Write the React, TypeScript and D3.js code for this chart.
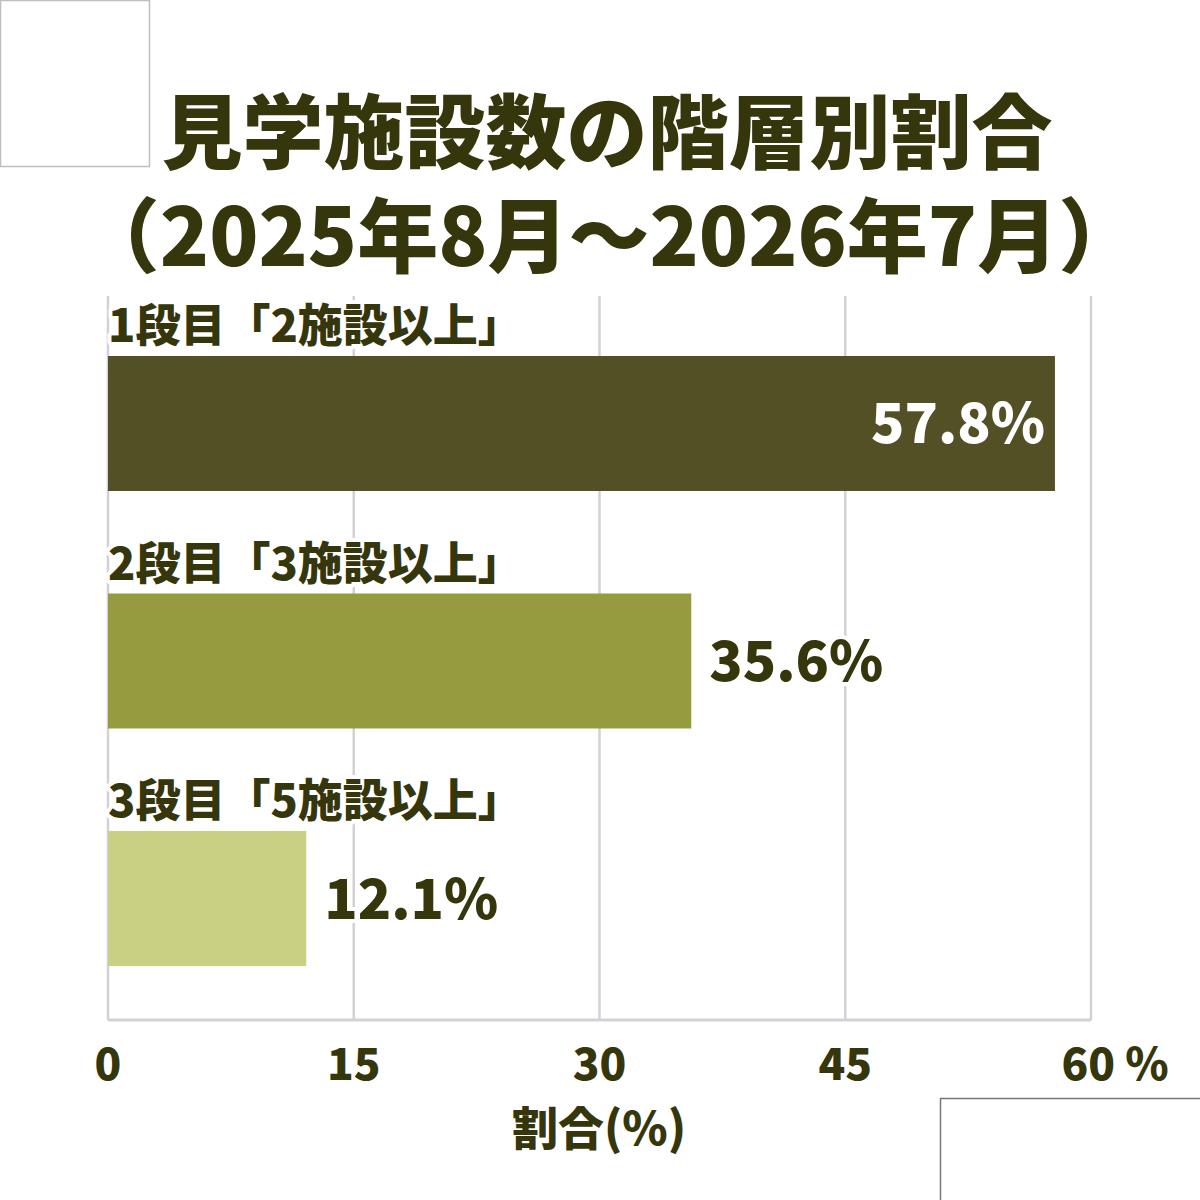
import { useEffect, useRef } from "react"
import * as d3 from "d3"

const categories = ["1段目「2施設以上」", "2段目「3施設以上」", "3段目「5施設以上」"]
const values = [57.8, 35.6, 12.1]
const valueLabels = ["57.8%", "35.6%", "12.1%"]
const barColors = ["#525024", "#969b3f", "#c9cf83"]
const ticks = [0, 15, 30, 45, 60]
const titleLines = ["見学施設数の階層別割合", "（2025年8月～2026年7月）"]

const FONT = "'Noto Sans CJK JP', 'Noto Sans', sans-serif"
const INK = "#36360c"

export default function App() {
  const svgRef = useRef<SVGSVGElement>(null)

  useEffect(() => {
    if (!svgRef.current) return
    const width = 1200
    const height = 1200

    d3.select(svgRef.current).selectAll("*").remove()
    const svg = d3.select(svgRef.current).attr("width", width).attr("height", height)

    svg.append("rect").attr("width", width).attr("height", height).attr("fill", "#fff")

    // placeholder boxes in the corners
    svg
      .append("rect")
      .attr("x", 0.5)
      .attr("y", 0.5)
      .attr("width", 149)
      .attr("height", 166)
      .attr("fill", "#fff")
      .attr("stroke", "#bdbdc2")
      .attr("stroke-width", 1.5)
    svg
      .append("rect")
      .attr("x", 940.5)
      .attr("y", 1098.5)
      .attr("width", 262)
      .attr("height", 110)
      .attr("fill", "#fff")
      .attr("stroke", "#777")
      .attr("stroke-width", 1.5)

    const x = d3.scaleLinear().domain([0, 60]).range([108, 1091])
    const y = d3.scaleBand().domain(categories).range([356, 966]).paddingInner(0.4316).paddingOuter(0)

    const plotTop = 296
    const plotBottom = 1020

    // grid lines
    svg
      .selectAll(".grid")
      .data(ticks)
      .enter()
      .append("line")
      .attr("x1", (d) => x(d))
      .attr("x2", (d) => x(d))
      .attr("y1", plotTop)
      .attr("y2", plotBottom)
      .attr("stroke", "#d3d0d6")
      .attr("stroke-width", 2.5)

    // bottom axis line
    svg
      .append("line")
      .attr("x1", x(0))
      .attr("x2", x(60))
      .attr("y1", plotBottom)
      .attr("y2", plotBottom)
      .attr("stroke", "#d3d0d6")
      .attr("stroke-width", 3)

    // bars
    svg
      .selectAll(".bar")
      .data(values)
      .enter()
      .append("rect")
      .attr("x", x(0))
      .attr("y", (_, i) => y(categories[i]) || 0)
      .attr("width", (d) => x(d) - x(0))
      .attr("height", y.bandwidth())
      .attr("fill", (_, i) => barColors[i])

    // category labels above bars
    svg
      .selectAll(".cat")
      .data(categories)
      .enter()
      .append("text")
      .attr("x", 108)
      .attr("y", (d) => (y(d) || 0) - 14)
      .text((d) => d)
      .style("font-family", FONT)
      .style("font-weight", 900)
      .style("font-size", "45px")
      .style("fill", INK)
      .style("stroke", "#fff")
      .style("stroke-width", "8px")
      .style("stroke-linejoin", "round")
      .style("paint-order", "stroke")

    // value labels: inside for the long bar, outside otherwise
    svg
      .selectAll(".val")
      .data(values)
      .enter()
      .append("text")
      .attr("x", (d) => (d > 50 ? x(d) - 10 : x(d) + 18))
      .attr("y", (_, i) => (y(categories[i]) || 0) + y.bandwidth() / 2 + 20)
      .attr("text-anchor", (d) => (d > 50 ? "end" : "start"))
      .text((_, i) => valueLabels[i])
      .style("font-family", FONT)
      .style("font-weight", 900)
      .style("font-size", "55px")
      .style("fill", (d) => (d > 50 ? "#fff" : INK))
      .style("stroke", (d) => (d > 50 ? "none" : "#fff"))
      .style("stroke-width", "8px")
      .style("stroke-linejoin", "round")
      .style("paint-order", "stroke")

    // x tick labels
    svg
      .selectAll(".tick")
      .data(ticks)
      .enter()
      .append("text")
      .attr("x", (d) => x(d))
      .attr("y", 1080)
      .attr("text-anchor", "middle")
      .text((d) => (d === 60 ? "60 %" : String(d)))
      .attr("dx", (d) => (d === 60 ? 24 : 0))
      .style("font-family", FONT)
      .style("font-weight", 900)
      .style("font-size", "44px")
      .style("fill", INK)

    // x axis title
    svg
      .append("text")
      .attr("x", 599)
      .attr("y", 1145)
      .attr("text-anchor", "middle")
      .text("割合(%)")
      .style("font-family", FONT)
      .style("font-weight", 900)
      .style("font-size", "46px")
      .style("fill", INK)

    // title: two lines in one text element
    const title = svg
      .append("text")
      .attr("text-anchor", "middle")
      .style("font-family", FONT)
      .style("font-weight", 900)
      .style("font-size", "81px")
      .style("fill", INK)
      .style("stroke", "#fff")
      .style("stroke-width", "6px")
      .style("stroke-linejoin", "round")
      .style("paint-order", "stroke")
    title
      .selectAll("tspan")
      .data(titleLines)
      .enter()
      .append("tspan")
      .attr("x", (_, i) => (i === 0 ? 607 : 609))
      .attr("y", (_, i) => 162 + i * 104)
      .text((d) => d)
  }, [])

  return <svg ref={svgRef} style={{ position: "absolute", left: 0, top: 0 }}></svg>
}
